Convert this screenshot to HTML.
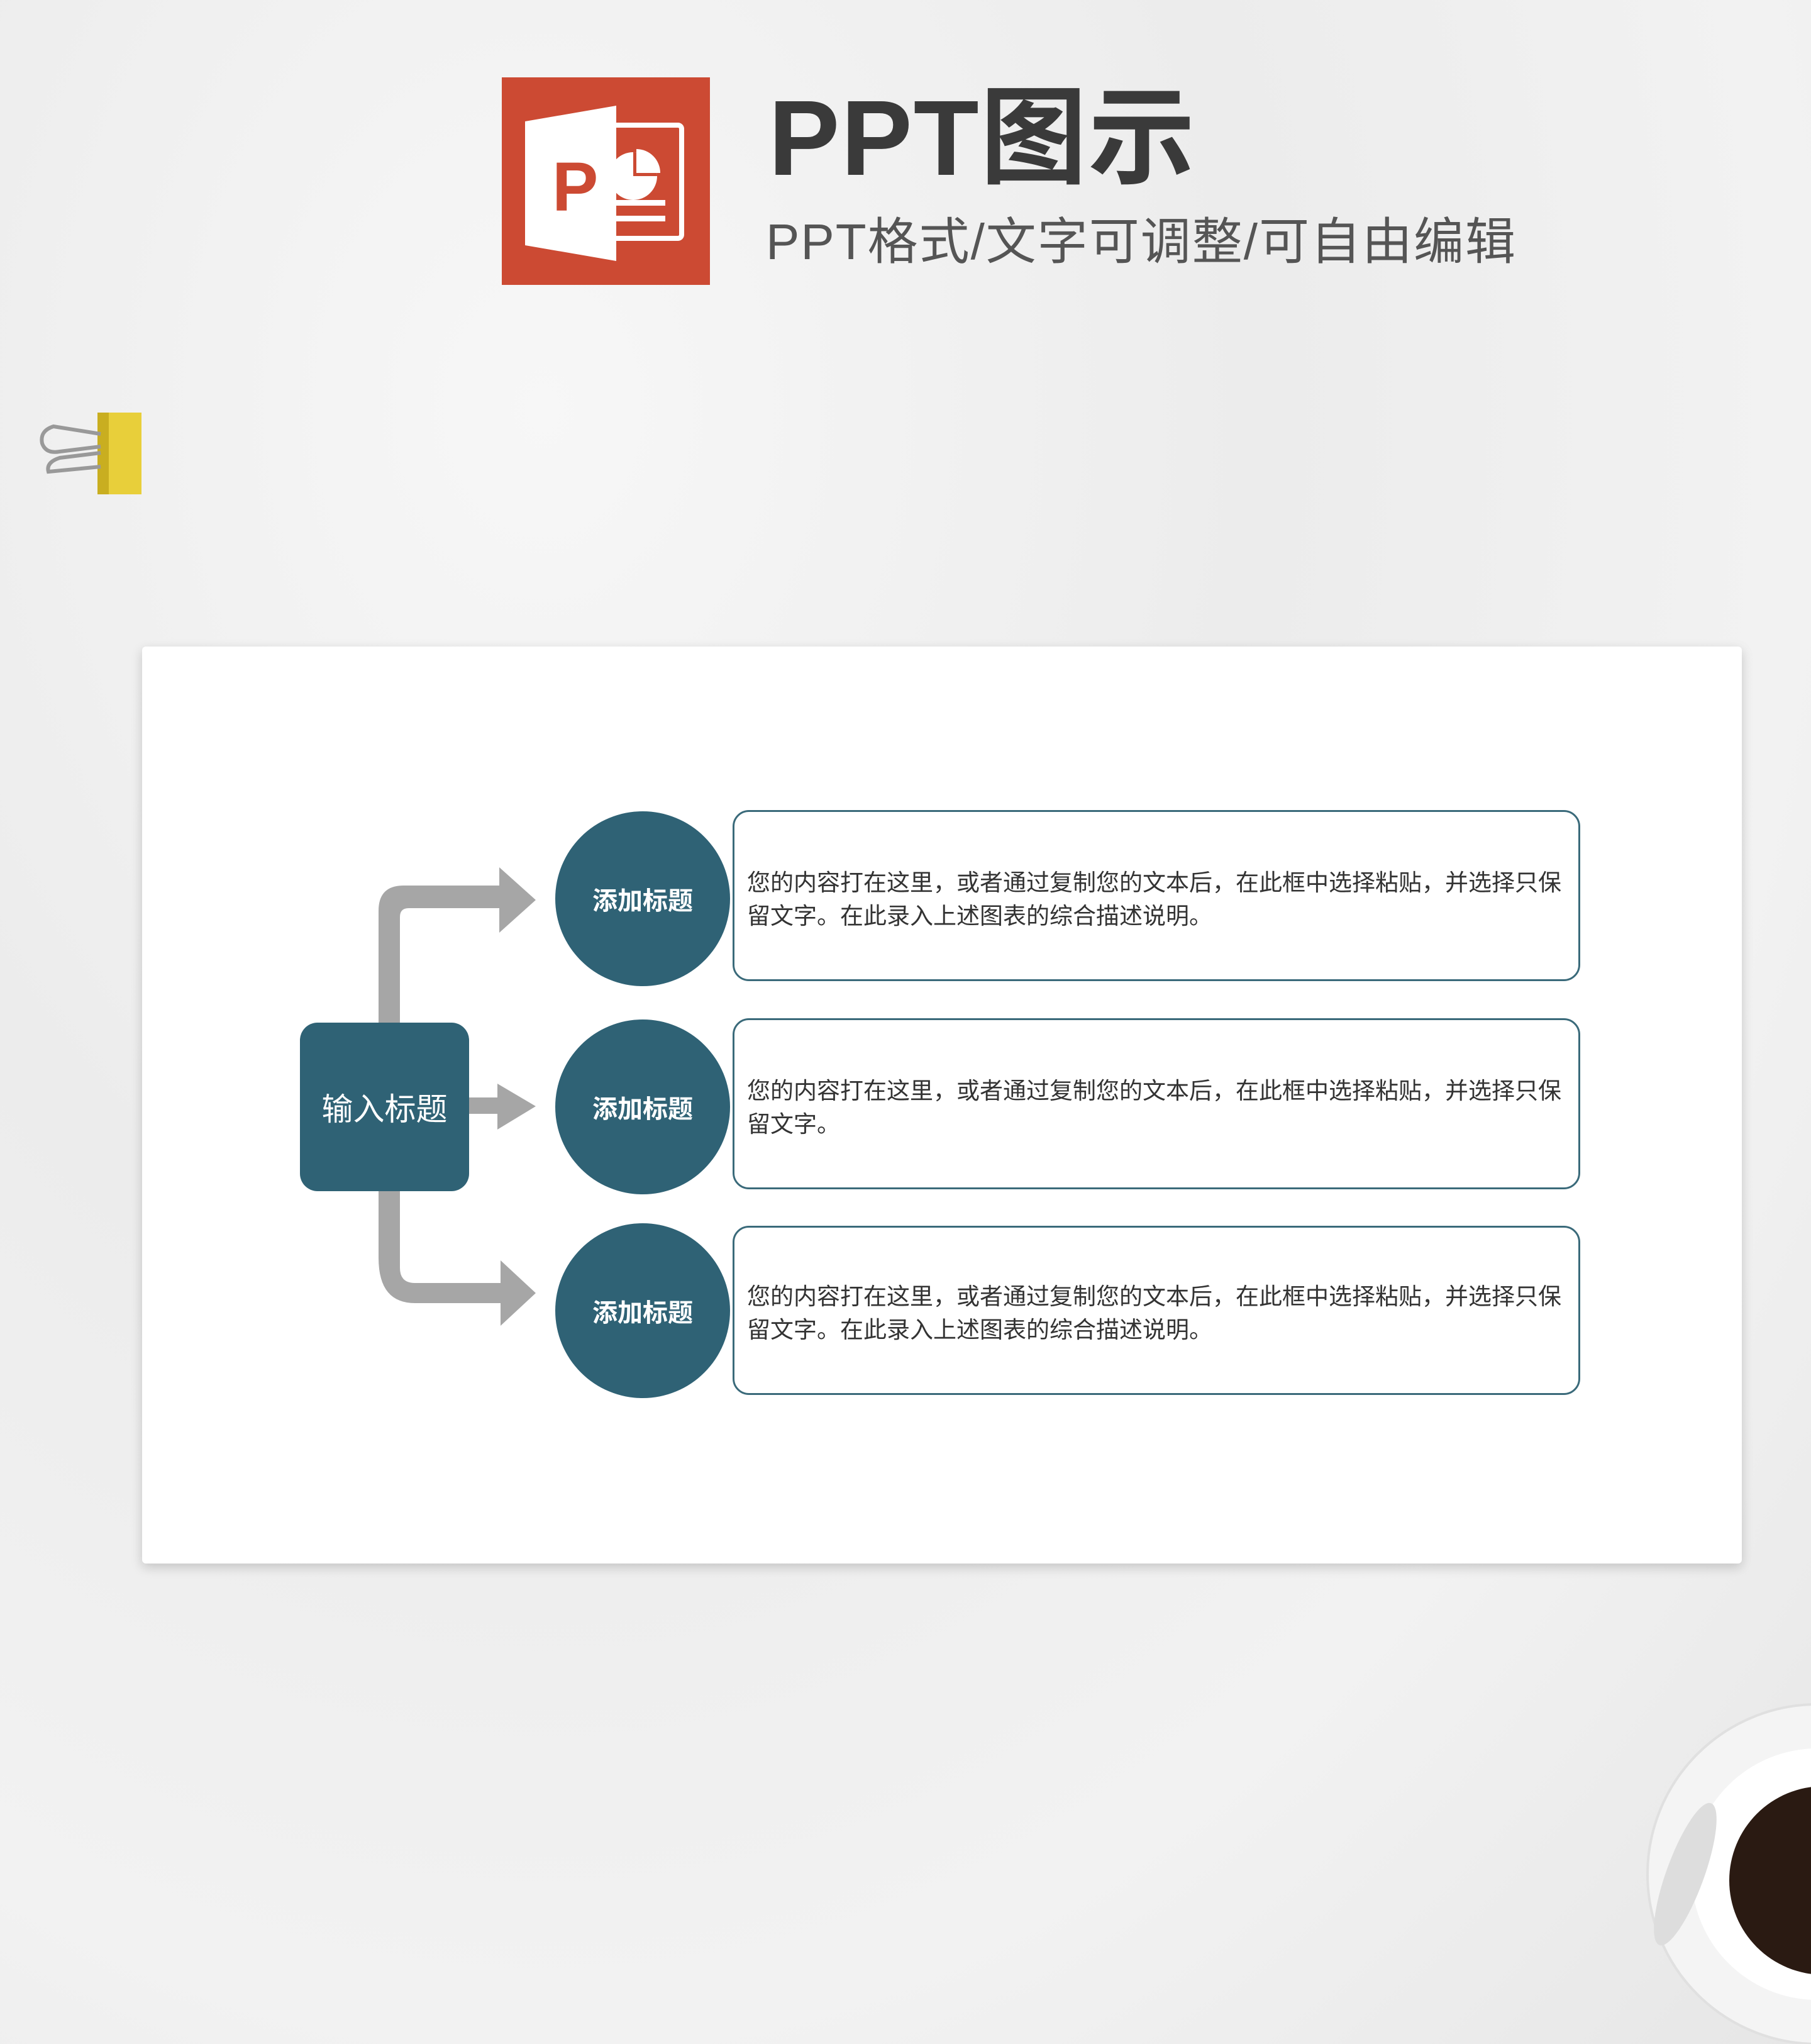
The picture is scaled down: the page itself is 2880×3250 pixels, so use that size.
<!DOCTYPE html>
<html><head><meta charset="utf-8">
<style>
html,body{margin:0;padding:0;}
body{width:2880px;height:3250px;position:relative;overflow:hidden;
background:radial-gradient(ellipse at 30% 20%,#f7f7f7 0%,#ececec 40%,#f2f2f2 70%,#e6e6e6 100%);
font-family:"Liberation Sans","Noto Sans CJK SC",sans-serif;}
.abs{position:absolute;}
.title{left:1222px;top:120px;font-size:170px;line-height:200px;color:#3a3a3a;font-weight:600;letter-spacing:2px;}
.sub{left:1218px;top:335px;font-size:80px;line-height:100px;color:#555;letter-spacing:2px;}
.card{left:226px;top:1028px;width:2544px;height:1458px;background:#fff;box-shadow:0 6px 18px rgba(0,0,0,0.18);border-radius:6px;}
.cbox{left:477px;top:1626px;width:269px;height:268px;background:#2f6275;border-radius:28px;color:#fff;font-size:50px;display:flex;align-items:center;justify-content:center;}
.circ{width:278px;height:278px;border-radius:50%;background:#2f6275;color:#fff;font-size:40px;font-weight:bold;display:flex;align-items:center;justify-content:center;left:883px;}
.tb{left:1165px;width:1348px;border:3px solid #3a6a7a;border-radius:26px;background:#fff;box-sizing:border-box;}
.tb p{margin:0;position:absolute;left:20px;right:6px;font-size:37px;line-height:53px;color:#333;white-space:nowrap;overflow:hidden;}
</style></head><body>
<svg class="abs" style="left:798px;top:123px" width="331" height="330" viewBox="798 123 331 330">
<rect x="798" y="123" width="331" height="330" fill="#cc4a33"/>
<rect x="960" y="199" width="124" height="180" rx="6" fill="none" stroke="#fff" stroke-width="8"/>
<circle cx="1007" cy="280" r="38" fill="#fff"/>
<path d="M1007 280 L1007 242 A38 38 0 0 1 1045 280 Z" fill="#cc4a33"/>
<path d="M1012 275 L1012 237 A38 38 0 0 1 1050 275 Z" fill="#fff"/>
<rect x="975" y="318" width="83" height="9" fill="#fff"/>
<rect x="975" y="343" width="83" height="9" fill="#fff"/>
<polygon points="835,193 980,168 980,415 835,390" fill="#fff"/>
<text x="878" y="335" font-family="Liberation Sans" font-weight="bold" font-size="110" fill="#cc4a33">P</text>
</svg>
<div class="abs title">PPT图示</div>
<div class="abs sub">PPT格式/文字可调整/可自由编辑</div>
<svg class="abs" style="left:55px;top:650px" width="175" height="140">
<rect x="100" y="6" width="70" height="130" fill="#e8cf3a"/>
<rect x="100" y="6" width="18" height="130" fill="#c9ae20"/>
<path d="M105 40 L30 28 Q8 35 12 55 Q18 72 40 68 L105 60 M105 70 L40 78 Q18 85 22 100 L105 92" fill="none" stroke="#999" stroke-width="6"/>
</svg>
<div class="abs card"></div>
<svg class="abs" style="left:0;top:0" width="2880" height="3250">
<g fill="#a6a6a6">
<path d="M602 1630 L602 1448 Q602 1408 642 1408 L796 1408 L796 1444 L650 1444 Q636 1444 636 1458 L636 1630 Z"/>
<polygon points="794,1379 852,1431 794,1483"/>
<rect x="740" y="1745" width="56" height="26"/>
<polygon points="791,1723 852,1759 791,1796"/>
<path d="M602 1890 L602 2000 Q602 2072 660 2072 L798 2072 L798 2040 L660 2040 Q636 2040 636 2016 L636 1890 Z"/>
<polygon points="796,2004 852,2056 796,2108"/>
</g>
</svg>
<div class="abs cbox">输入标题</div>
<div class="abs circ" style="top:1290px">添加标题</div>
<div class="abs circ" style="top:1621px">添加标题</div>
<div class="abs circ" style="top:1945px">添加标题</div>
<div class="abs tb" style="top:1288px;height:272px"><p style="top:86px">您的内容打在这里，或者通过复制您的文本后，在此框中选择粘贴，并选择只保<br>留文字。在此录入上述图表的综合描述说明。</p></div>
<div class="abs tb" style="top:1619px;height:272px"><p style="top:86px">您的内容打在这里，或者通过复制您的文本后，在此框中选择粘贴，并选择只保<br>留文字。</p></div>
<div class="abs tb" style="top:1949px;height:269px"><p style="top:83px">您的内容打在这里，或者通过复制您的文本后，在此框中选择粘贴，并选择只保<br>留文字。在此录入上述图表的综合描述说明。</p></div>
<svg class="abs" style="left:2560px;top:2650px" width="320" height="600">
<circle cx="330" cy="330" r="270" fill="#f4f4f4" stroke="#e0e0e0" stroke-width="4"/>
<circle cx="330" cy="330" r="200" fill="#fff"/>
<circle cx="340" cy="340" r="150" fill="#2a1a12"/>
<ellipse cx="120" cy="330" rx="30" ry="120" fill="#ddd" transform="rotate(20 120 330)"/>
</svg>
</body></html>
